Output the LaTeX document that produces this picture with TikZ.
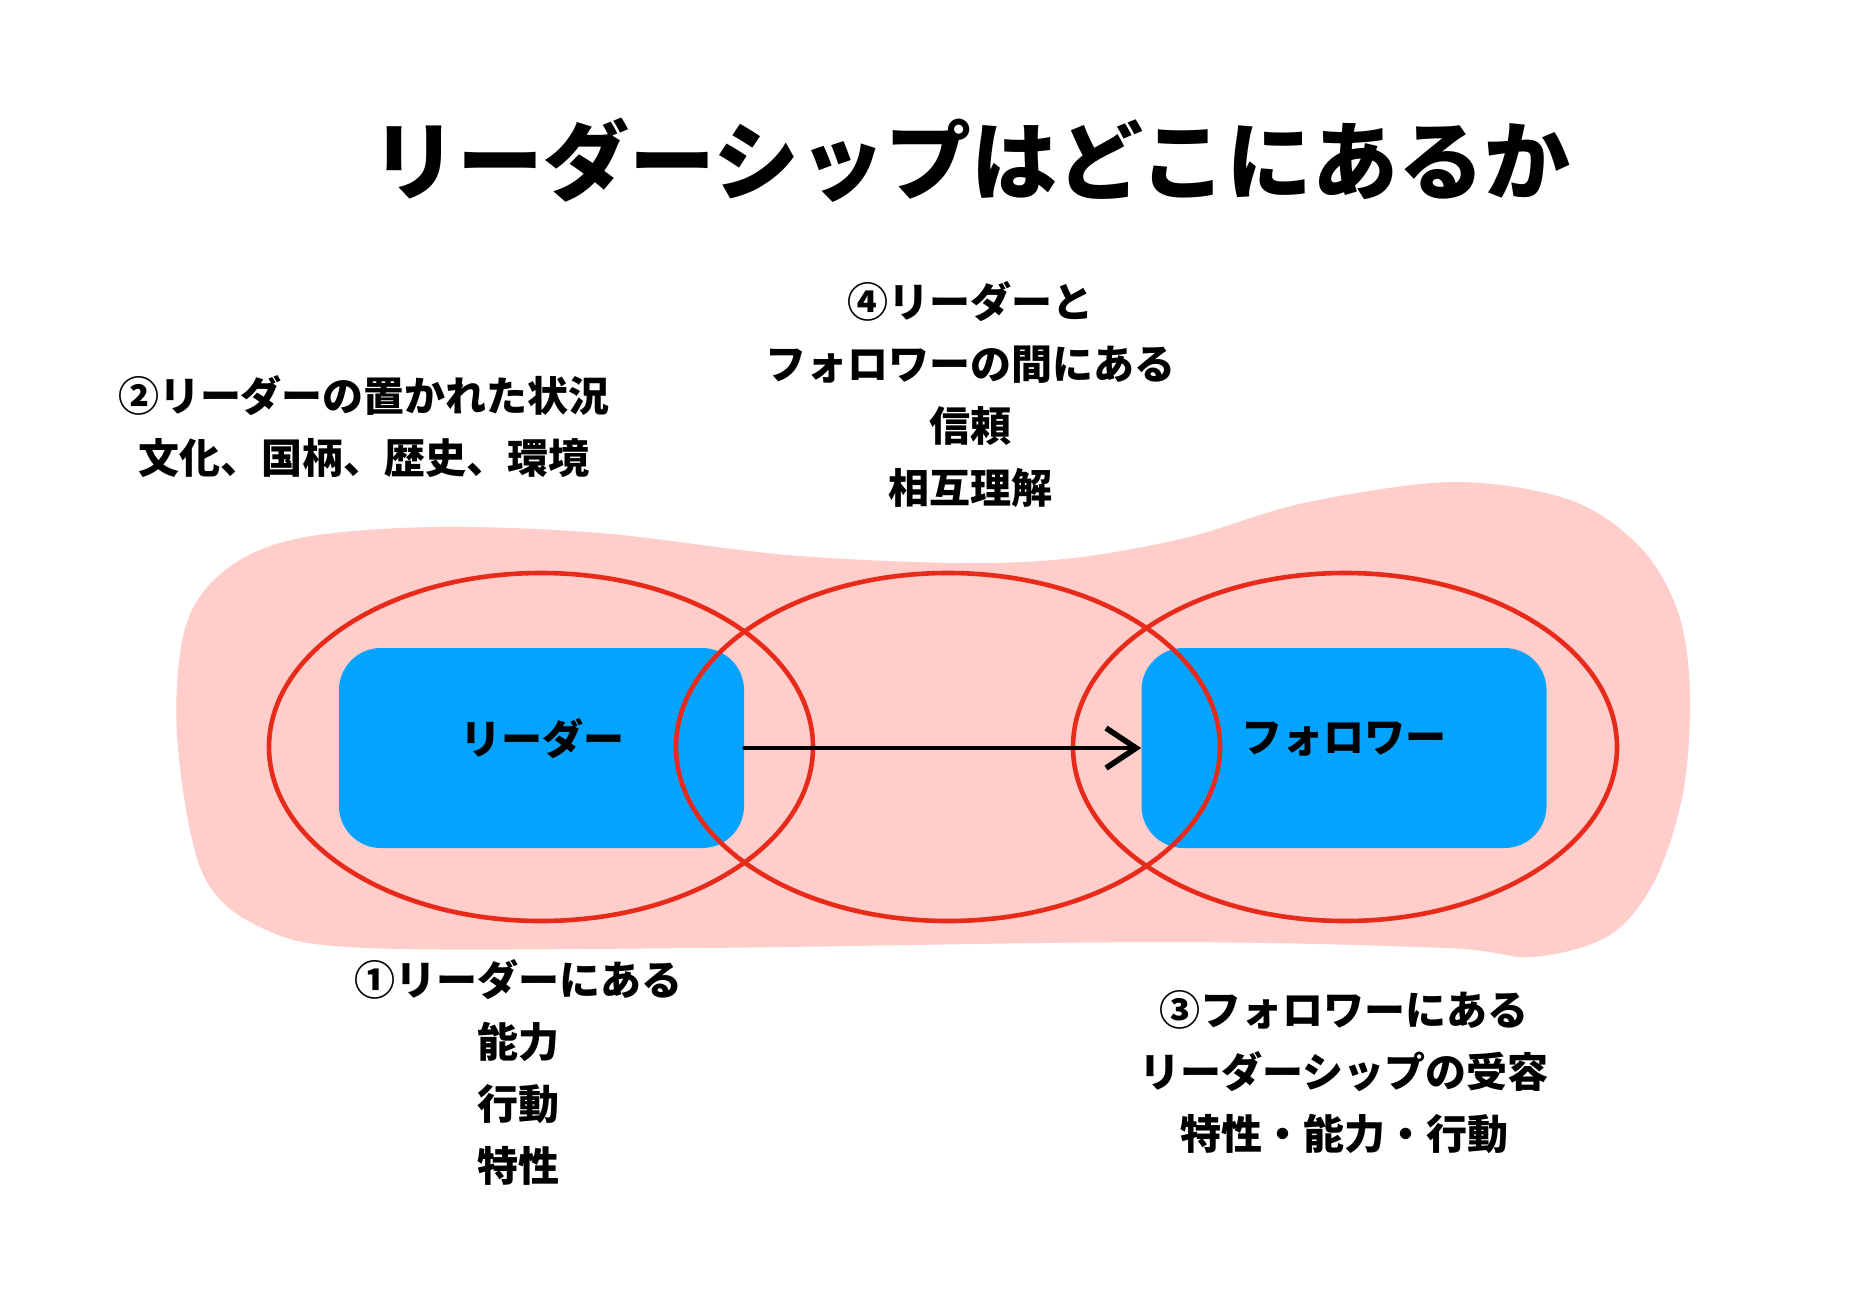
\documentclass[tikz,border=0pt]{standalone}
\usepackage{fontspec}
\setmainfont{Noto Sans CJK JP}
\usetikzlibrary{arrows.meta,shapes.geometric}
\definecolor{blobpink}{HTML}{FFCDCA}
\definecolor{boxblue}{HTML}{03A3FF}
\definecolor{pencilred}{HTML}{E82A1A}
\tikzset{
  actorbox/.style={fill=boxblue, draw=none, rounded corners=21pt, minimum width=202.5pt, minimum height=100pt, inner sep=0pt},
  ring/.style={draw=pencilred, line width=2.3pt},
  boxlabel/.style={font=\fontsize{20.5}{31}\selectfont\bfseries, inner sep=0pt},
  note/.style={font=\fontsize{20.5}{31}\selectfont\bfseries, align=center, inner sep=0pt},
  pencilarrow/.style={draw=black, line width=2pt, line cap=round, -{Straight Barb[length=15pt, width=20pt, line width=2.8pt]}}
}
\begin{document}
\begin{tikzpicture}[x=0.5pt, y=-0.5pt]
\useasboundingbox[fill=white] (0,0) rectangle (1854,1308);
% background blob
\fill[blobpink] plot[smooth cycle, tension=0.55] coordinates {
 (177,735) (186,625) (228,568) (300,538) (433,527) (600,533) (787,555) (959,563)
 (1074,558) (1189,537) (1304,503) (1453,482) (1570,500) (1640,547) (1678,612)
 (1690,693) (1683,793) (1655,880) (1610,935) (1533,957) (1446,948) (1159,942)
 (700,948) (367,948) (262,928) (202,872)};
% boxes
\node[actorbox] (leaderbox) at (541.5,748) {};
\node[actorbox] (followerbox) at (1344,748) {};
% red rings
\draw[ring] (541,747) ellipse [x radius=136pt, y radius=87pt];
\draw[ring] (948,747) ellipse [x radius=136pt, y radius=87pt];
\draw[ring] (1345,747) ellipse [x radius=136pt, y radius=87pt];
% labels in boxes
\node[boxlabel] (leader) at (542,739) {リーダー};
\node[boxlabel] (follower) at (1344,739) {フォロワー};
% arrow
\draw[pencilarrow] (leaderbox.east) -- (followerbox.west);
% title
\node[font=\fontsize{43}{50}\selectfont\bfseries, inner sep=0pt] (title) at (971,160) {リーダーシップはどこにあるか};
% notes
\node[note] (n2) at (364,427) {②リーダーの置かれた状況\\文化、国柄、歴史、環境};
\node[note] (n4) at (970,394) {④リーダーと\\フォロワーの間にある\\信頼\\相互理解};
\node[note] (n1) at (518,1072) {①リーダーにある\\能力\\行動\\特性};
\node[note] (n3) at (1344,1072) {③フォロワーにある\\リーダーシップの受容\\特性・能力・行動};
\end{tikzpicture}
\end{document}
